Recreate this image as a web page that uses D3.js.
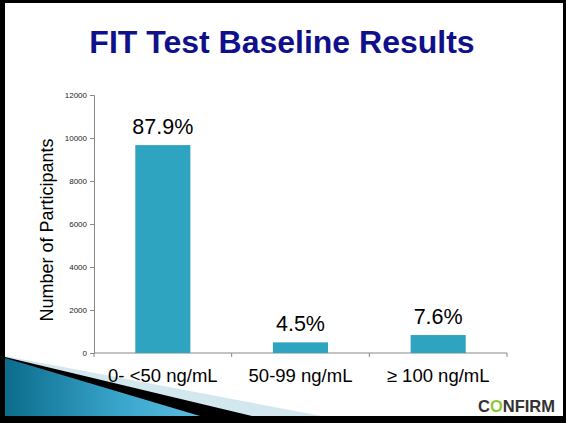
<!DOCTYPE html>
<html><head><meta charset="utf-8">
<script src="https://cdn.jsdelivr.net/npm/d3@7"></script>
<style>
html,body{margin:0;padding:0;background:#000;}
svg{display:block;font-family:"Liberation Sans",Arial,sans-serif;}
</style></head>
<body>
<script>
const categories = ["0- <50 ng/mL", "50-99 ng/mL", "\u2265 100 ng/mL"];
const participants = [9670, 495, 835];
const percentLabels = ["87.9%", "4.5%", "7.6%"];
const yTicks = [0, 2000, 4000, 6000, 8000, 10000, 12000];

const W = 566, H = 423;
const svg = d3.select("body").append("svg").attr("width", W).attr("height", H);

// slide background with black frame
svg.append("rect").attr("x",0).attr("y",0).attr("width",W).attr("height",H).attr("fill","#000");
svg.append("rect").attr("x",5).attr("y",3).attr("width",558).attr("height",413).attr("fill","#fff");

// decorative swoosh bottom-left
const defs = svg.append("defs");
const g1 = defs.append("linearGradient").attr("id","sw").attr("x1","0").attr("y1","0").attr("x2","1").attr("y2","0");
g1.append("stop").attr("offset","0").attr("stop-color","#0b6c8c");
g1.append("stop").attr("offset","0.6").attr("stop-color","#3aa6cc");
g1.append("stop").attr("offset","1").attr("stop-color","#5dbde0");
svg.append("path").attr("d","M5,356 L322,416 L5,416 Z").attr("fill","#d3e7ef");
svg.append("path").attr("d","M5,357 L252,416 L5,416 Z").attr("fill","#000");
svg.append("path").attr("d","M5,358 L200,416 L5,416 Z").attr("fill","url(#sw)");

// title
svg.append("text").attr("x",282).attr("y",53).attr("text-anchor","middle")
  .attr("font-size",32).attr("font-weight","bold").attr("fill","#10108a")
  .text("FIT Test Baseline Results");

const x = d3.scaleBand().domain(categories).range([94,507]).paddingInner(0.6).paddingOuter(0.3);
const y = d3.scaleLinear().domain([0,12000]).range([353,95]);

// y axis
const ya = svg.append("g").attr("transform","translate(94,0)")
  .call(d3.axisLeft(y).tickValues(yTicks).tickSize(4).tickPadding(3).tickFormat(d3.format("d")));
ya.select(".domain").attr("stroke","#888");
ya.selectAll(".tick line").attr("stroke","#888");
ya.selectAll("text").attr("font-size",8).attr("fill","#222").attr("font-family","Liberation Sans, Arial, sans-serif");

// x axis
const xa = svg.append("g").attr("transform","translate(0,353)")
  .call(d3.axisBottom(x).tickSize(0).tickFormat(""));
xa.select(".domain").attr("stroke","#888").attr("d","M94,0H507");
// category separators
const step = x.step();
const seps = d3.range(categories.length + 1).map(i => 94 + i * step);
svg.append("g").selectAll("line").data(seps).join("line")
  .attr("x1",d=>d).attr("x2",d=>d).attr("y1",353).attr("y2",357).attr("stroke","#888");

// category labels
svg.append("g").selectAll("text").data(categories).join("text")
  .attr("x",d=>x(d)+x.bandwidth()/2).attr("y",382).attr("text-anchor","middle")
  .attr("font-size",18.5).attr("fill","#000").text(d=>d);

// bars
svg.append("g").selectAll("rect").data(participants).join("rect")
  .attr("x",(d,i)=>x(categories[i])).attr("width",x.bandwidth())
  .attr("y",d=>y(d)).attr("height",d=>y(0)-y(d)).attr("fill","#2ea4c1");

// percent labels
svg.append("g").selectAll("text").data(participants).join("text")
  .attr("x",(d,i)=>x(categories[i])+x.bandwidth()/2).attr("y",d=>y(d)-11)
  .attr("text-anchor","middle").attr("font-size",21.5).attr("fill","#000")
  .text((d,i)=>percentLabels[i]);

// y axis title
svg.append("text").attr("transform","translate(53,230) rotate(-90)")
  .attr("text-anchor","middle").attr("font-size",18).attr("fill","#000")
  .text("Number of Participants");

// logo
const logo = svg.append("text").attr("x",478).attr("y",412).attr("font-size",16.5).attr("font-weight","bold").attr("fill","#333");
logo.append("tspan").text("C");
logo.append("tspan").attr("fill","#8cc63e").text("O");
logo.append("tspan").text("NFIRM");
</script>
</body></html>
